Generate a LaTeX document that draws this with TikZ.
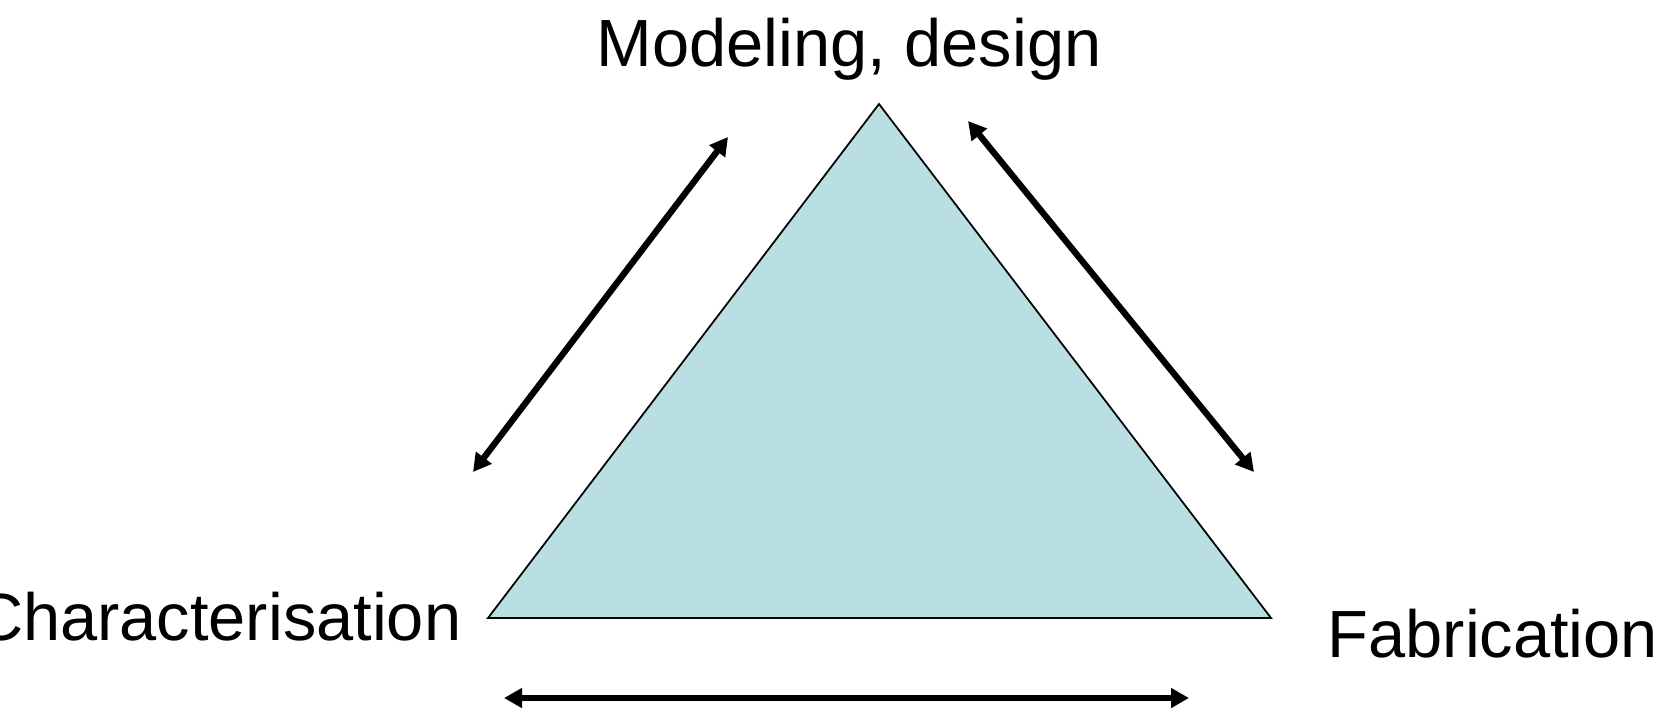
\documentclass[tikz,border=0pt]{standalone}
\usepackage{fontspec}
\setmainfont{Liberation Sans}
\usepackage{xcolor}
\usetikzlibrary{arrows.meta,positioning,calc}
\definecolor{paleblue}{HTML}{B9DFE3}

\begin{document}
\begin{tikzpicture}[x=0.1mm,y=-0.1mm,>={Triangle[length=1.8mm,width=1.9mm]},
 lbl/.style={inner sep=0pt,font=\fontsize{19pt}{23pt}\selectfont},
 link/.style={<->,line width=1.8pt}]
\useasboundingbox (0,0) rectangle (1665,709);
% triangle corners
\coordinate (top) at (879,104);
\coordinate (bl) at (488,618);
\coordinate (br) at (1271,618);
\filldraw[fill=paleblue,draw=black,line width=0.5pt] (top) -- (bl) -- (br) -- cycle;
% labels
\node[lbl,anchor=base] (model) at (849,66) {Modeling, design};
\node[lbl,anchor=base east] (charac) at (462,640) {Characterisation};
\node[lbl,anchor=base west] (fab) at (1327,657) {Fabrication};
% arrow ends
\coordinate (l1) at (473,472);
\coordinate (l2) at (728,137);
\coordinate (r1) at (968,121);
\coordinate (r2) at (1254,472);
\coordinate (b1) at (504,698);
\coordinate (b2) at (1189,698);
\draw[link] (l1) -- (l2);
\draw[link] (r1) -- (r2);
\draw[link] (b1) -- (b2);
\end{tikzpicture}
\end{document}
